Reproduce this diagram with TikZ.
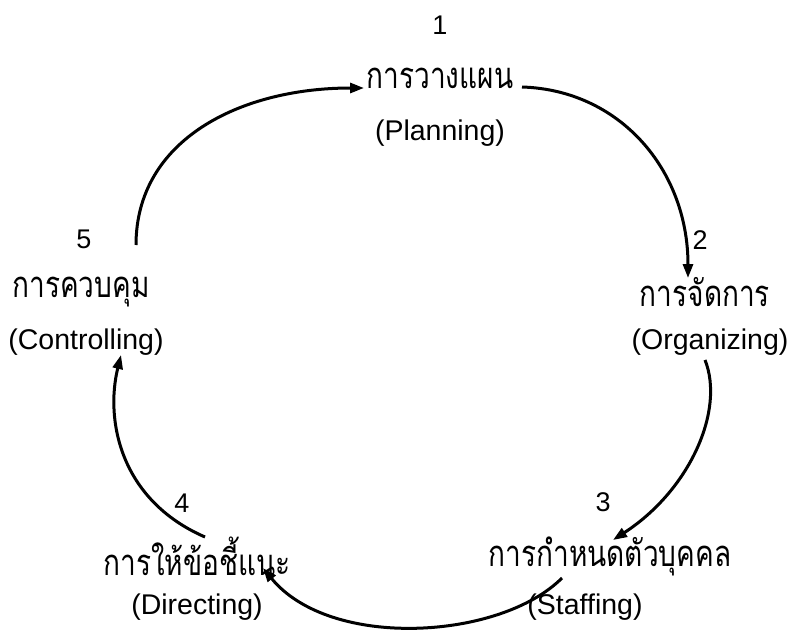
\documentclass[tikz,border=0pt]{standalone}
\usepackage{fontspec}
\usepackage{graphicx}
\setmainfont{Liberation Sans}
\newfontfamily\thaifont[Script=Thai]{Loma}
\newcommand{\thtxt}[1]{\scalebox{1}[1.3]{#1}}
\usetikzlibrary{arrows.meta}
\tikzset{
  thai/.style={font=\thaifont\fontsize{28}{34}\selectfont, inner sep=0pt},
  eng/.style={font=\fontsize{28.5}{32}\selectfont, inner sep=0pt},
  num/.style={font=\fontsize{27}{30}\selectfont, inner sep=0pt},
  conn/.style={line width=3pt, -{Triangle[length=14pt,width=10pt]}}
}
\begin{document}
\begin{tikzpicture}[x=1pt,y=-1pt]
\useasboundingbox (0,0) rectangle (789,634);
% Planning
\node[num] (n1) at (440,25) {1};
\node[thai] (t1) at (440,78) {\thtxt{การวางแผน}};
\node[eng] (e1) at (440,133) {(Planning)};
% Organizing
\node[num] (n2) at (700,240) {2};
\node[thai] (t2) at (705,292) {\thtxt{การจัดการ}};
\node[eng] (e2) at (710,342) {(Organizing)};
% Staffing
\node[num] (n3) at (603,502) {3};
\node[thai] (t3) at (610,556) {\thtxt{การกำหนดตัวบุคคล}};
\node[eng] (e3) at (585,607) {(Staffing)};
% Directing
\node[num] (n4) at (182,503) {4};
\node[thai] (t4) at (197,556) {\thtxt{การให้ข้อชี้แนะ}};
\node[eng] (e4) at (197,607) {(Directing)};
% Controlling
\node[num] (n5) at (84,239) {5};
\node[thai] (t5) at (81,292) {\thtxt{การควบคุม}};
\node[eng] (e5) at (86,342) {(Controlling)};
% connector ends
\coordinate (a1) at (136,245);
\coordinate (b1) at (364,88);
\coordinate (a2) at (522,87);
\coordinate (b2) at (688,278);
\coordinate (a3) at (705,360);
\coordinate (b3) at (613,540);
\coordinate (a4) at (562,578);
\coordinate (b4) at (263,568);
\coordinate (a5) at (205,537);
\coordinate (b5) at (121,355);
\draw[conn] (a1) .. controls (136,140) and (240,88) .. (b1);
\draw[conn] (a2) .. controls (620,90) and (688,170) .. (b2);
\draw[conn] (a3) .. controls (725,410) and (690,490) .. (b3);
\draw[conn] (a4) .. controls (500,640) and (330,650) .. (b4);
\draw[conn] (a5) .. controls (120,500) and (105,420) .. (b5);
\end{tikzpicture}
\end{document}
